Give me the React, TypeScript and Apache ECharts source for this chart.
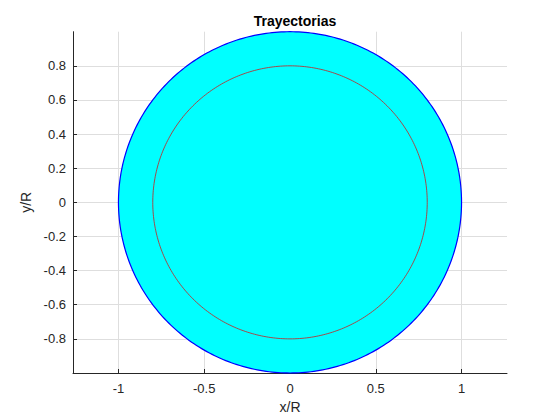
import React, { useEffect, useRef } from "react";
import * as echarts from "echarts";

const titleText = "Trayectorias";
const xName = "x/R";
const yName = "y/R";
const xTicks = [-1, -0.5, 0, 0.5, 1];
const yTicks = [-0.8, -0.6, -0.4, -0.2, 0, 0.2, 0.4, 0.6, 0.8];
const xRange = [-1.265, 1.265];
const yRange = [-1, 1];
// circles: centre x, centre y, radius
const outerCircle = [0, 0, 1];
const innerCircle = [0, 0, 0.8];

const FONT = "'Liberation Sans', Arial, Helvetica, sans-serif";
const TXT = "#262626";
const GRIDC = "#dedede";

function circleItem(fill: string, stroke: string, lw: number) {
  return (params: any, api: any) => {
    const cx = api.value(0);
    const cy = api.value(1);
    const r = api.value(2);
    const pts: number[][] = [];
    const n = 360;
    for (let k = 0; k <= n; k++) {
      const a = (k / n) * Math.PI * 2;
      pts.push(api.coord([cx + r * Math.cos(a), cy + r * Math.sin(a)]));
    }
    return {
      type: "polygon",
      shape: { points: pts },
      style: { fill, stroke, lineWidth: lw },
    };
  };
}

export default function App() {
  const ref = useRef<HTMLDivElement>(null);
  useEffect(() => {
    if (!ref.current) return;
    const chart = echarts.init(ref.current, null, { renderer: "svg" });
    chart.setOption({
      animation: false,
      backgroundColor: "#ffffff",
      title: {
        text: titleText,
        left: 290,
        textAlign: "center",
        top: 9,
        textStyle: { fontFamily: FONT, fontSize: 14, fontWeight: "bold", color: "#000" },
      },
      grid: { left: 73, right: 53, top: 31.7, bottom: 47, containLabel: false, outerBoundsMode: "none" },
      xAxis: {
        type: "value",
        min: xRange[0],
        max: xRange[1],
        name: xName,
        nameLocation: "middle",
        nameGap: 27,
        nameTextStyle: { fontFamily: FONT, fontSize: 14, color: TXT },
        axisLine: { show: true, onZero: false, lineStyle: { color: TXT, width: 1 } },
        axisTick: { show: true, inside: true, length: 4, customValues: xTicks, lineStyle: { color: TXT } },
        axisLabel: { customValues: xTicks, margin: 9, fontFamily: FONT, fontSize: 13, color: TXT },
        splitLine: { show: true, lineStyle: { color: GRIDC, width: 1 } },
      },
      yAxis: {
        type: "value",
        min: yRange[0],
        max: yRange[1],
        name: yName,
        nameLocation: "middle",
        nameGap: 27,
        nameTextStyle: { fontFamily: FONT, fontSize: 14, color: TXT },
        axisLine: { show: true, onZero: false, lineStyle: { color: TXT, width: 1 } },
        axisTick: { show: true, inside: true, length: 4, customValues: yTicks, lineStyle: { color: TXT } },
        axisLabel: { customValues: yTicks, margin: 7, fontFamily: FONT, fontSize: 13, color: TXT },
        splitLine: { show: true, lineStyle: { color: GRIDC, width: 1 } },
      },
      series: [
        {
          type: "custom",
          renderItem: circleItem("#00ffff", "#0000ff", 1.2),
          data: [outerCircle],
          clip: false,
          z: 2,
        },
        {
          type: "custom",
          renderItem: circleItem("none", "#c81e1e", 0.8),
          data: [innerCircle],
          clip: false,
          z: 3,
        },
      ],
    });
    return () => chart.dispose();
  }, []);
  return <div ref={ref} style={{ width: 560, height: 420, position: "absolute", left: 0, top: 0 }} />;
}
